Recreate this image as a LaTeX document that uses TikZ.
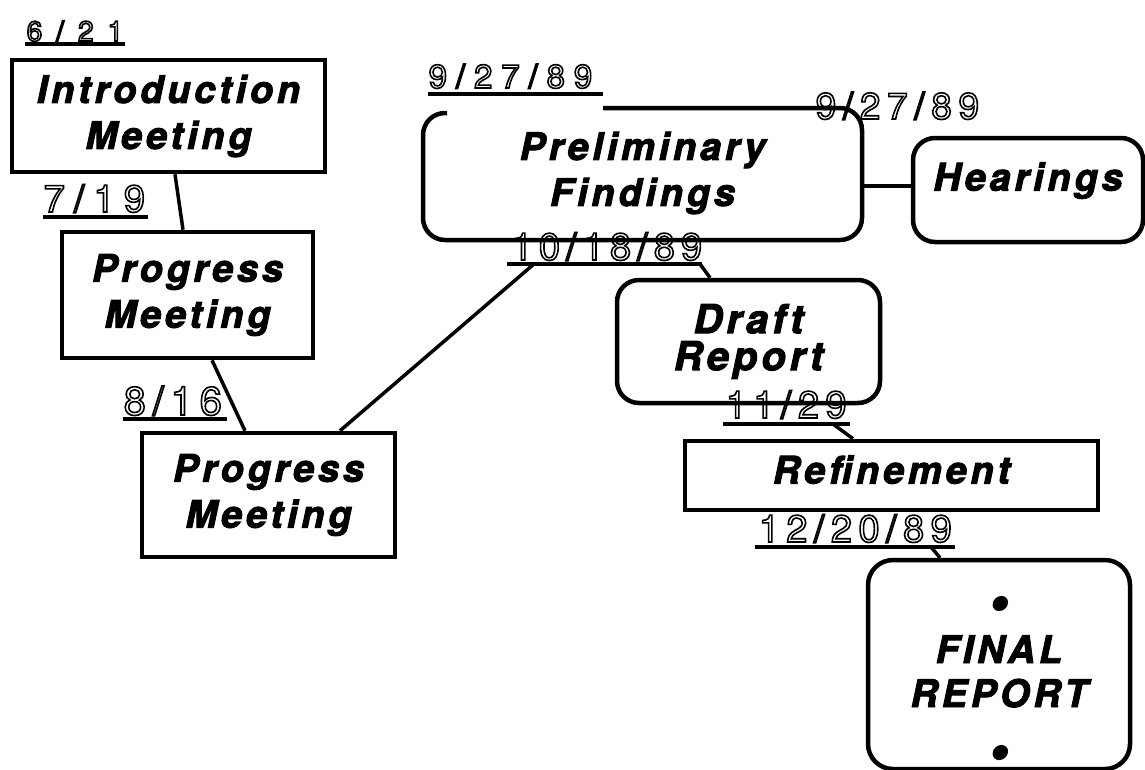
\documentclass[tikz,border=0pt]{standalone}
\usepackage{fontspec}
\setmainfont{TeX Gyre Heros}
\newfontfamily\boxfont{TeX Gyre Heros}[LetterSpace=10, BoldItalicFeatures={FakeBold=2.5}]
% hollow (stroked) letter-spaced date stamp: size, spacing, text
\newcommand\datetext[3]{{\fontsize{#1}{#1}\selectfont\addfontfeature{LetterSpace=#2}%
  \special{pdf:literal direct 1 Tr 1.6 w}#3\special{pdf:literal direct 0 Tr}}}
% larger bullet for the final box
\newcommand\bigdot{{\fontsize{55}{44}\selectfont •}}
\tikzset{
  box/.style={draw, line width=4.5pt, inner sep=0pt, align=center,
    font=\boxfont\bfseries\itshape\fontsize{38}{46}\selectfont},
  rbox/.style={box, rounded corners=22pt},
  link/.style={line width=3.5pt},
  uline/.style={line width=4pt},
  datelbl/.style={inner sep=0pt, anchor=base west},
}
\begin{document}
\begin{tikzpicture}[x=1pt,y=-1pt]
\useasboundingbox (0,0) rectangle (1145,769);

% date stamps
\node[datelbl] (d621)  at (26.5,41)  {\datetext{28}{50}{6/21}};
\node[datelbl] (d719)  at (43.5,212) {\datetext{38}{24}{7/19}};
\node[datelbl] (d816)  at (123.5,415) {\datetext{40}{17}{8/16}};
\node[datelbl] (d927a) at (428.5,88) {\datetext{33}{27}{9/27/89}};
\node[datelbl] (d927b) at (815.5,119) {\datetext{37}{18}{9/27/89}};
\node[datelbl] (d1018) at (511.5,260) {\datetext{38}{16}{10/18/89}};
\node[datelbl] (d1129) at (725.5,418) {\datetext{38}{17}{11/29}};
\node[datelbl] (d1220) at (758.5,542) {\datetext{38}{17}{12/20/89}};

% underlines of the stamps
\draw[uline] (25,44) -- (125,44);
\draw[uline] (43,217) -- (148,217);
\draw[uline] (123,419) -- (227,419);
\draw[uline] (428,94) -- (603,94);
\draw[uline] (507,264) -- (702,264);
\draw[uline] (723,424) -- (850,424);
\draw[uline] (755,547) -- (955,547);
\coordinate (u1018a) at (534,264);
\coordinate (u1018b) at (700,264);
\coordinate (u1129) at (833,424);
\coordinate (u1220) at (931,547);

% activity boxes
\node[box, minimum width=313pt, minimum height=112pt] (intro) at (168.5,116) {Introduction\\Meeting};
\node[box, minimum width=251pt, minimum height=126pt] (pm1) at (187.5,295) {Progress\\Meeting};
\node[box, minimum width=253pt, minimum height=124pt] (pm2) at (268.5,495) {Progress\\Meeting};
\node[box, draw=none] (prelim) at (642.5,173) {Preliminary\\Findings};
\draw[line width=4.5pt, rounded corners=22pt]
  (603,108) -- (862,108) -- (862,240) -- (423,240) -- (423,113) -- (447,113);
\coordinate (pR) at (862,186);
\node[rbox, minimum width=230pt, minimum height=104pt, text depth=27pt] (hear) at (1028,190) {Hearings};
\node[rbox, minimum width=263pt, minimum height=123pt,
  font=\boxfont\bfseries\itshape\fontsize{40}{37}\selectfont] (draft) at (748.5,341.5) {Draft\\Report};
\node[box, minimum width=413pt, minimum height=69pt, text depth=12pt] (refine) at (891.5,475.5) {Refinement};
\node[rbox, rounded corners=25pt, minimum width=262pt, minimum height=205pt,
  text height=209pt, text depth=0pt,
  font=\boxfont\bfseries\itshape\fontsize{38}{44}\selectfont] (final) at (999,664.5)
  {\bigdot\\[-1pt]FINAL\\REPORT\\[18pt]\bigdot};

% connectors
\draw[link] ([xshift=6.5pt]intro.south) -- ([xshift=-4.5pt]pm1.north);
\draw[link] ([xshift=24.5pt]pm1.south) -- ([xshift=-23.5pt]pm2.north);
\draw[link] ([xshift=71.5pt]pm2.north) -- (u1018a);
\draw[link] (u1018b) -- ([xshift=-38.5pt]draft.north);
\draw[link] (pR) -- (pR -| hear.west);
\draw[link] (u1129) -- ([xshift=-38.5pt]refine.north);
\draw[link] (u1220) -- ([xshift=-59pt]final.north);
\end{tikzpicture}
\end{document}
